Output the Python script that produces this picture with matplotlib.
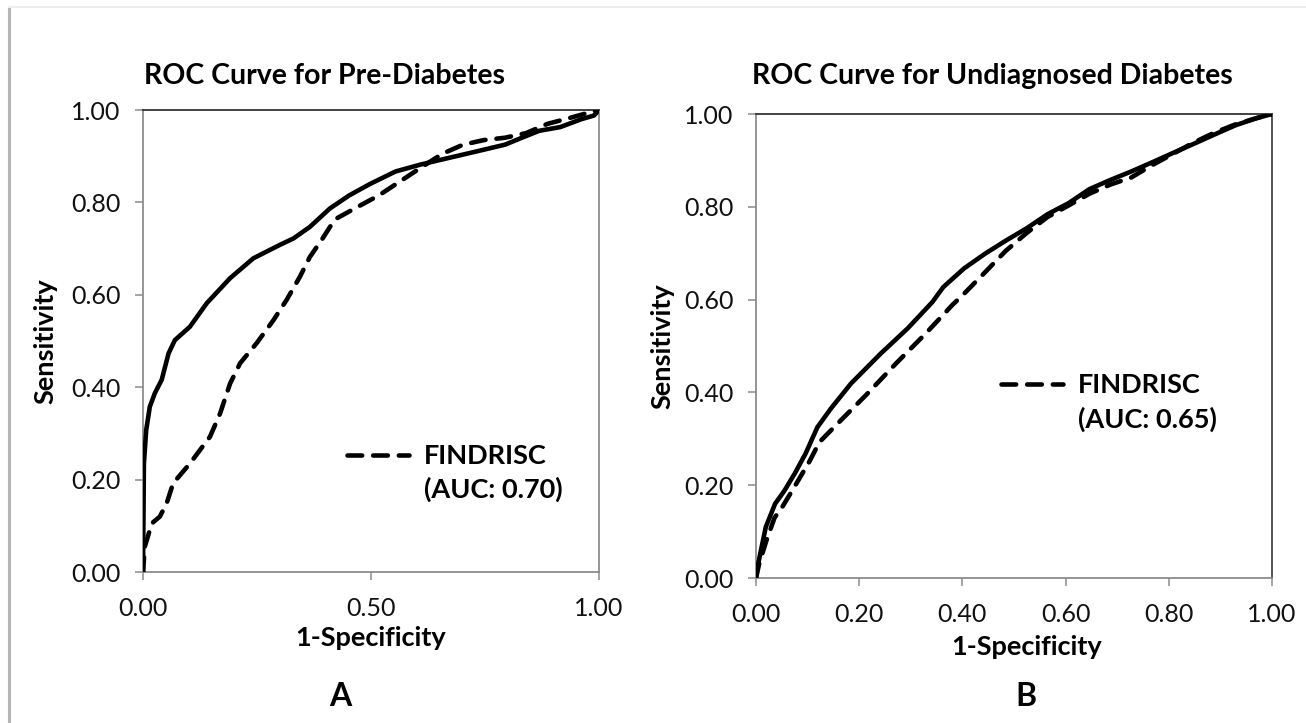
import numpy as np
import matplotlib.pyplot as plt
from matplotlib.lines import Line2D

plt.rcParams['font.family'] = ['Lato', 'DejaVu Sans']

# -----------------------------
# DATA
# -----------------------------
# Panel A: pre-diabetes
a_solid_x = [0.0, 0.002, 0.007, 0.015, 0.026, 0.041, 0.056, 0.070, 0.103, 0.140, 0.191,
             0.242, 0.300, 0.330, 0.366, 0.410, 0.452, 0.498, 0.554, 0.609, 0.665,
             0.730, 0.794, 0.831, 0.869, 0.915, 0.961, 0.989, 1.0]
a_solid_y = [0.0, 0.235, 0.307, 0.358, 0.387, 0.416, 0.473, 0.502, 0.531, 0.582, 0.636,
             0.679, 0.708, 0.722, 0.747, 0.787, 0.815, 0.840, 0.867, 0.882, 0.895,
             0.910, 0.925, 0.940, 0.955, 0.963, 0.980, 0.988, 1.0]

a_dash_x = [0.0, 0.004, 0.015, 0.019, 0.037, 0.052, 0.066, 0.103, 0.147, 0.169, 0.191,
            0.213, 0.249, 0.286, 0.315, 0.344, 0.366, 0.392, 0.410, 0.424, 0.470,
            0.517, 0.563, 0.609, 0.656, 0.702, 0.748, 0.794, 0.840, 0.887, 0.933,
            0.980, 1.0]
a_dash_y = [0.0, 0.055, 0.091, 0.105, 0.120, 0.149, 0.192, 0.235, 0.293, 0.343, 0.408,
            0.452, 0.495, 0.545, 0.589, 0.639, 0.682, 0.719, 0.747, 0.765, 0.790,
            0.815, 0.845, 0.875, 0.905, 0.925, 0.935, 0.940, 0.950, 0.970, 0.982,
            0.995, 1.0]

# Panel B: undiagnosed diabetes
b_solid_x = [0.0, 0.005, 0.019, 0.037, 0.055, 0.075, 0.096, 0.119, 0.145, 0.184, 0.242,
             0.294, 0.342, 0.363, 0.403, 0.444, 0.484, 0.525, 0.565, 0.606, 0.646,
             0.687, 0.727, 0.768, 0.808, 0.849, 0.889, 0.930, 0.970, 1.0]
b_solid_y = [0.0, 0.035, 0.110, 0.160, 0.188, 0.225, 0.268, 0.325, 0.365, 0.419, 0.484,
             0.538, 0.595, 0.627, 0.667, 0.699, 0.727, 0.754, 0.784, 0.808, 0.838,
             0.858, 0.876, 0.896, 0.916, 0.936, 0.956, 0.976, 0.991, 1.0]

b_dash_x = [0.0, 0.006, 0.020, 0.036, 0.052, 0.071, 0.103, 0.123, 0.161, 0.213, 0.271,
            0.329, 0.381, 0.400, 0.444, 0.484, 0.525, 0.565, 0.606, 0.646, 0.687,
            0.727, 0.768, 0.808, 0.849, 0.889, 0.930, 0.970, 1.0]
b_dash_y = [0.0, 0.030, 0.080, 0.130, 0.155, 0.190, 0.250, 0.293, 0.336, 0.394, 0.462,
            0.527, 0.589, 0.609, 0.659, 0.705, 0.744, 0.778, 0.803, 0.828, 0.848,
            0.863, 0.890, 0.914, 0.939, 0.960, 0.978, 0.991, 1.0]

a_xticks = [0.0, 0.5, 1.0]
b_xticks = [0.0, 0.2, 0.4, 0.6, 0.8, 1.0]
yticks = [0.0, 0.2, 0.4, 0.6, 0.8, 1.0]

titles = ["ROC Curve for Pre-Diabetes", "ROC Curve for Undiagnosed Diabetes"]
legend_labels = ["FINDRISC", "FINDRISC"]
auc_labels = ["(AUC: 0.70)", "(AUC: 0.65)"]
panel_letters = ["A", "B"]


# -----------------------------
# FIGURE
# -----------------------------
W, H = 1306, 723
fig = plt.figure(figsize=(W / 100, H / 100), dpi=100)

# page border bits
fig.add_artist(Line2D([9 / W, 9 / W], [0, 1 - 7 / H], color="#b4b4b4", lw=2.2,
                      transform=fig.transFigure))
fig.add_artist(Line2D([9 / W, 1], [1 - 7 / H, 1 - 7 / H], color="#eeeeee", lw=1.5,
                      transform=fig.transFigure))

# axes boxes in pixels: left, top, right, bottom
boxes = [(143, 110, 599, 572), (756, 114, 1272, 578)]
axes = []
for (l, t, r, b) in boxes:
    ax = fig.add_axes([l / W, 1 - b / H, (r - l) / W, (b - t) / H])
    axes.append(ax)

GRAY = "#8c8c8c"
lw_curve = 3.3
dash_style = (3.2, 2.4)
LAB = 19.5

panels = [
    (a_solid_x, a_solid_y, a_dash_x, a_dash_y, a_xticks),
    (b_solid_x, b_solid_y, b_dash_x, b_dash_y, b_xticks),
]

title_pos = [(0.003, 1.074), (-0.008, 1.082)]
ylabel_pos = [(-0.215, 0.5), (-0.182, 0.5)]
xlabel_pos = [(0.50, -0.143), (0.525, -0.149)]
letter_pos = [(0.433, -0.270), (0.524, -0.255)]
legend_anchor = [(0.447, 0.277), (0.475, 0.441)]

for i, ax in enumerate(axes):
    sx, sy, dx, dy, xt = panels[i]
    ax.plot(sx, sy, color="black", lw=lw_curve, solid_capstyle="round",
            solid_joinstyle="round", zorder=3)
    dline, = ax.plot(dx, dy, color="black", lw=lw_curve, dashes=dash_style,
                     dash_capstyle="round", dash_joinstyle="round", zorder=3)

    ax.set_xlim(0, 1)
    ax.set_ylim(0, 1)
    ax.set_xticks(xt)
    ax.set_yticks(yticks)
    ax.set_xticklabels([f"{v:.2f}" for v in xt])
    ax.set_yticklabels([f"{v:.2f}" for v in yticks])
    ax.tick_params(direction="out", length=6, width=1.1, color=GRAY,
                   labelsize=18, labelcolor="#111111")
    ax.tick_params(axis="x", pad=12)
    ax.tick_params(axis="y", pad=10)

    for side in ["left", "bottom", "right"]:
        ax.spines[side].set_color(GRAY)
        ax.spines[side].set_linewidth(1.3)
    ax.spines["top"].set_color("#333333")
    ax.spines["top"].set_linewidth(1.3)
    if i == 1:
        ax.spines["right"].set_color("#444444")

    ax.text(title_pos[i][0], title_pos[i][1], titles[i], transform=ax.transAxes,
            ha="left", va="center", fontsize=20.5, fontweight="bold")
    ax.set_ylabel("Sensitivity", fontsize=LAB, fontweight="bold", va="center")
    ax.yaxis.set_label_coords(*ylabel_pos[i])
    ax.set_xlabel("1-Specificity", fontsize=LAB, fontweight="bold", va="center")
    ax.xaxis.set_label_coords(*xlabel_pos[i])
    ax.text(letter_pos[i][0], letter_pos[i][1], panel_letters[i], transform=ax.transAxes,
            ha="center", va="center", fontsize=23, fontweight="bold")

    blank = Line2D([], [], color="none")
    ax.legend([dline, blank], [legend_labels[i], auc_labels[i]],
              loc="upper left", bbox_to_anchor=legend_anchor[i], frameon=False,
              borderpad=0, borderaxespad=0, handlelength=2.3, handletextpad=0.55,
              labelspacing=0.33, prop={"size": LAB, "weight": "bold"})

fig.savefig("out.png", dpi=100, facecolor="white")
